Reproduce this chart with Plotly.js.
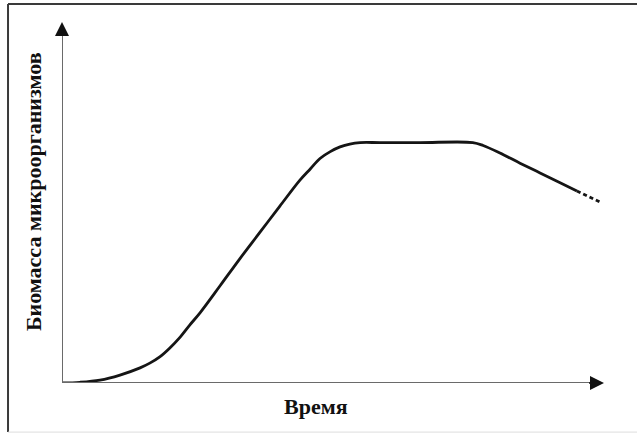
<!DOCTYPE html>
<html>
<head>
<meta charset="utf-8">
<script src="https://cdn.plot.ly/plotly-3.0.1.min.js"></script>
<style>html,body{margin:0;padding:0;background:#fff;}#chart{width:637px;height:434px;}</style>
</head>
<body>
<div id="chart"></div>
<script>
// Time (relative units, 0..100) and biomass (relative units, 0..100)
var time =    [0, 3.3, 7.0, 10.7, 14.4, 16.2, 18.1, 19.9, 21.8, 23.6, 25.5, 29.2, 32.8, 36.5, 40.2, 43.9, 45.8, 47.6, 49.5, 51.3, 53.1, 55.0, 58.7, 66.1, 75.8, 77.7, 80.8, 84.5, 88.2, 91.9, 95.0];
var biomass = [0, 0.2, 0.8, 2.2, 4.2, 5.5, 7.3, 9.7, 12.7, 16.1, 19.5, 27.0, 34.4, 41.7, 49.0, 56.2, 59.3, 62.2, 64.1, 65.4, 66.2, 66.6, 66.6, 66.6, 66.6, 65.8, 63.7, 60.9, 58.2, 55.5, 53.2];
var timeExtrapolated =    [95.0, 99.6];
var biomassExtrapolated = [53.2, 49.9];
var xLabel = "Время";
var yLabel = "Биомасса микроорганизмов";

var traces = [
  {x: time, y: biomass, mode: "lines", line: {color: "#151515", width: 2.8, shape: "spline", smoothing: 1}, hoverinfo: "skip"},
  {x: timeExtrapolated, y: biomassExtrapolated, mode: "lines", line: {color: "#151515", width: 2.8, dash: "4px,3px"}, hoverinfo: "skip"}
];

var layout = {
  width: 637, height: 434,
  margin: {l: 62, r: 33, t: 22, b: 51, pad: 0},
  paper_bgcolor: "#ffffff", plot_bgcolor: "#ffffff",
  showlegend: false,
  xaxis: {range: [0, 100], showgrid: false, zeroline: false, showticklabels: false, showline: false, ticks: "", fixedrange: true},
  yaxis: {range: [0, 100], showgrid: false, zeroline: false, showticklabels: false, showline: false, ticks: "", fixedrange: true},
  shapes: [
    // frame
    {type: "line", xref: "paper", yref: "paper", x0: -0.0996, x1: -0.0996, y0: -0.136, y1: 1.05, line: {color: "#3a3a3a", width: 2}},
    {type: "line", xref: "paper", yref: "paper", x0: -0.0996, x1: 1.07, y0: 1.05, y1: 1.05, line: {color: "#3a3a3a", width: 2}},
    {type: "line", xref: "paper", yref: "paper", x0: -0.0996, x1: 1.07, y0: -0.136, y1: -0.136, line: {color: "#dddddd", width: 1}},
    // axes
    {type: "line", xref: "x", yref: "y", x0: 0, x1: 98, y0: 0, y1: 0, line: {color: "#6a6a6a", width: 2}},
    {type: "line", xref: "x", yref: "y", x0: 0, x1: 0, y0: 0, y1: 97, line: {color: "#6a6a6a", width: 2}}
  ],
  annotations: [
    {x: 100, y: 0, ax: 97, ay: 0, xref: "x", yref: "y", axref: "x", ayref: "y", text: "", showarrow: true, arrowhead: 2, arrowsize: 1.4, arrowwidth: 2, arrowcolor: "#111"},
    {x: 0, y: 100, ax: 0, ay: 96, xref: "x", yref: "y", axref: "x", ayref: "y", text: "", showarrow: true, arrowhead: 2, arrowsize: 1.4, arrowwidth: 2, arrowcolor: "#111"},
    {x: 0.469, y: -0.066, xref: "paper", yref: "paper", text: "<b>" + xLabel + "</b>", showarrow: false, xanchor: "center", yanchor: "middle",
     font: {family: "Liberation Serif, DejaVu Serif, serif", size: 22, color: "#111"}},
    {x: -0.0535, y: 0.529, xref: "paper", yref: "paper", text: "<b>" + yLabel + "</b>", showarrow: false, textangle: -90, xanchor: "center", yanchor: "middle",
     font: {family: "Liberation Serif, DejaVu Serif, serif", size: 22, color: "#111"}}
  ]
};

Plotly.newPlot("chart", traces, layout, {staticPlot: true, displayModeBar: false});
</script>
</body>
</html>
